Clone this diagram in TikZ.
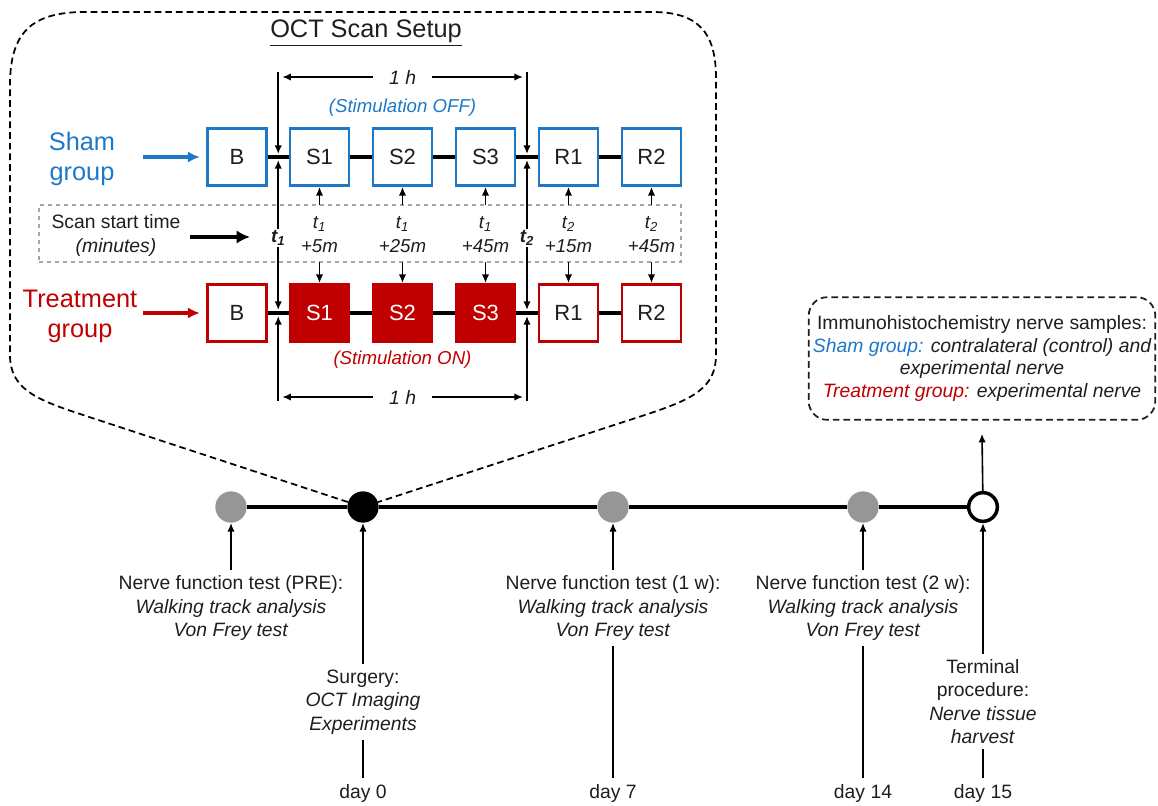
\documentclass[tikz,border=0pt]{standalone}
\usepackage{fontspec}
\setmainfont{Liberation Sans}
\usetikzlibrary{arrows.meta,calc}
\definecolor{shamblue}{RGB}{30,120,200}
\definecolor{treatred}{RGB}{192,0,0}
\definecolor{dotgray}{RGB}{150,150,150}
\definecolor{scangray}{RGB}{165,165,165}
\definecolor{txtdark}{RGB}{30,30,30}
\newcommand\fbody{\fontsize{14.5}{17.5}\selectfont}
\newcommand\fihc{\fontsize{14.5}{17}\selectfont}
\newcommand\fgroup{\fontsize{19}{22.5}\selectfont}
\newcommand\fboxlbl{\fontsize{16.5}{20}\selectfont}
\newcommand\ftitle{\fontsize{19}{23}\selectfont}
\newcommand\ftime{\fontsize{14}{18}\selectfont}
\begin{document}
\begin{tikzpicture}[x=0.75pt,y=-0.75pt,
  every node/.style={font=\fbody, text=txtdark},
  arr/.style={-{Latex[length=6.5pt,width=5.5pt]}, line width=1.2pt},
  arrs/.style={{Latex[length=6.5pt,width=5.5pt]}-{Latex[length=6.5pt,width=5.5pt]}, line width=1.2pt},
  grparr/.style={-{Latex[length=9pt,width=8.5pt]}, line width=2.4pt, shorten >=5pt},
  bigarr/.style={-{Latex[length=10pt,width=10pt]}, line width=3pt},
  basebox/.style={line width=1.8pt, fill=white, minimum width=44pt, minimum height=43pt, inner sep=0pt, font=\fboxlbl},
  shambox/.style={basebox, draw=shamblue},
  treatbox/.style={basebox, draw=treatred},
  stimbox/.style={basebox, draw=treatred, fill=treatred, text=white},
  bar/.style={line width=3.3pt},
  tl/.style={line width=3pt},
  tick/.style={line width=1.2pt},
  dot/.style={circle, minimum size=23.5pt, inner sep=0pt},
  callout/.style={line width=1.3pt, dash pattern=on 5pt off 3pt},
  timelbl/.style={align=center, font=\ftime, inner sep=1pt},
  desc/.style={align=center, inner sep=4pt}
]
\path[use as bounding box] (0,0) rectangle (1158,806);

% ---------- timeline dots ----------
\node[dot, fill=dotgray] (dpre) at (231,507) {};
\node[dot, fill=black] (d0) at (363,507) {};
\node[dot, fill=dotgray] (d7) at (613,507) {};
\node[dot, fill=dotgray] (d14) at (863,507) {};
\node[dot, draw=black, line width=2.6pt, fill=white, minimum size=21.5pt] (d15) at (983,507) {};

% ---------- callout ----------
\draw[callout] (d0) -- (77,413) .. controls (35,399) and (10,388) .. (10,355)
  -- (10,85) .. controls (10,32) and (32,12) .. (85,12)
  -- (652,12) .. controls (698,12) and (716,32) .. (716,78)
  -- (716,355) .. controls (716,388) and (692,399) .. (651,413) -- (d0);

\node (title) at (366,33) {\ftitle\underline{OCT Scan Setup}};

% ---------- scan start box ----------
\node[draw=scangray, dashed, line width=1pt, minimum width=481.5pt, minimum height=42.75pt, inner sep=0pt, outer sep=0pt] (scan) at (360,233.5) {};

% ---------- rows ----------
\node[shambox] (sB)  at (237,157) {B};
\node[shambox] (sS1) at (319.5,157) {S1};
\node[shambox] (sS2) at (402.5,157) {S2};
\node[shambox] (sS3) at (485.5,157) {S3};
\node[shambox] (sR1) at (568.5,157) {R1};
\node[shambox] (sR2) at (651.5,157) {R2};

\node[treatbox] (tB)  at (237,313) {B};
\node[stimbox]  (tS1) at (319.5,313) {S1};
\node[stimbox]  (tS2) at (402.5,313) {S2};
\node[stimbox]  (tS3) at (485.5,313) {S3};
\node[treatbox] (tR1) at (568.5,313) {R1};
\node[treatbox] (tR2) at (651.5,313) {R2};

\foreach \r in {s,t}{
  \draw[bar] (\r B) -- (\r S1);
  \draw[bar] (\r S1) -- (\r S2);
  \draw[bar] (\r S2) -- (\r S3);
  \draw[bar] (\r S3) -- (\r R1);
  \draw[bar] (\r R1) -- (\r R2);
}

% group labels
\node[align=center, font=\fgroup, text=shamblue] (shamlbl) at (82,159) {Sham\\group};
\node[align=center, font=\fgroup, text=treatred] (treatlbl) at (80,316) {Treatment\\group};
\coordinate (sa) at (143,157);
\coordinate (ta) at (143,313);
\draw[grparr, shamblue] (sa) -- (sB.west);
\draw[grparr, treatred] (ta) -- (tB.west);

% stimulation labels
\node[font=\fontsize{14}{16}\selectfont\itshape, text=shamblue] (stoff) at (402.5,108) {(Stimulation OFF)};
\node[font=\fontsize{14}{16}\selectfont\itshape, text=treatred] (ston) at (402.5,360) {(Stimulation ON)};

% vertical time markers
\coordinate (m1s) at ($(sB.east)!.5!(sS1.west)$);
\coordinate (m2s) at ($(sS3.east)!.5!(sR1.west)$);
\coordinate (m1t) at ($(tB.east)!.5!(tS1.west)$);
\coordinate (m2t) at ($(tS3.east)!.5!(tR1.west)$);
\coordinate (hTop) at (0,72);
\coordinate (hBot) at (0,401);
\coordinate (hA) at (0,77);
\coordinate (hB) at (0,397);
\coordinate (tly) at (0,238);

\foreach \m in {1,2}{
  \draw[arr] (m\m s |- hTop) -- ($(m\m s)+(0,-3)$);
  \draw[arrs] ($(m\m s)+(0,3)$) -- ($(m\m t)+(0,-3)$);
  \draw[arr] (m\m t |- hBot) -- ($(m\m t)+(0,3)$);
}
\draw[arrs, shorten <=3pt, shorten >=3pt] (m1s |- hA) -- (m2s |- hA)
  node[midway, fill=white, inner xsep=12pt, inner ysep=1pt] (oneh1) {\itshape 1 h};
\draw[arrs, shorten <=3pt, shorten >=3pt] (m1t |- hB) -- (m2t |- hB)
  node[midway, fill=white, inner xsep=12pt, inner ysep=1pt] (oneh2) {\itshape 1 h};

\node[fill=white, inner sep=1pt, font=\ftime] (tl1) at (m1s |- tly) {\bfseries\itshape t\textsubscript{1}};
\node[fill=white, inner sep=1pt, font=\ftime] (tl2) at (m2s |- tly) {\bfseries\itshape t\textsubscript{2}};

% scan start time text
\node[align=center, font=\fontsize{14.5}{18}\selectfont] (scantxt) at (116,235) {Scan start time\\\textit{(minutes)}};
\coordinate (sca) at (190,237);
\coordinate (scb) at (250,237);
\draw[bigarr] (sca) -- (scb);

% time labels
\node[timelbl] (ts1) at (319.5,235) {\itshape t\textsubscript{1}\\\itshape +5m};
\node[timelbl] (ts2) at (402.5,235) {\itshape t\textsubscript{1}\\\itshape +25m};
\node[timelbl] (ts3) at (485.5,235) {\itshape t\textsubscript{1}\\\itshape +45m};
\node[timelbl] (tr1) at (568.5,235) {\itshape t\textsubscript{2}\\\itshape +15m};
\node[timelbl] (tr2) at (651.5,235) {\itshape t\textsubscript{2}\\\itshape +45m};

\foreach \n in {S1,S2,S3,R1,R2}{
  \draw[arr] (scan.north -| s\n) -- (s\n);
  \draw[arr] (scan.south -| t\n) -- (t\n);
}

% ---------- timeline ----------
\draw[tl] (dpre) -- (d0);
\draw[tl] (d0) -- (d7);
\draw[tl] (d7) -- (d14);
\draw[tl] (d14) -- (d15);

% ---------- descriptions ----------
\node[desc] (pre) at (231,608) {Nerve function test (PRE):\\\textit{Walking track analysis}\\\textit{Von Frey test}};
\node[desc] (surg) at (363,702) {Surgery:\\\textit{OCT Imaging}\\\textit{Experiments}};
\node[desc] (w1) at (613,608) {Nerve function test (1 w):\\\textit{Walking track analysis}\\\textit{Von Frey test}};
\node[desc] (w2) at (863,608) {Nerve function test (2 w):\\\textit{Walking track analysis}\\\textit{Von Frey test}};
\node[desc] (term) at (983,701.5) {Terminal\\procedure:\\\textit{Nerve tissue}\\\textit{harvest}};

\node[inner sep=4pt] (day0) at (363,793) {day 0};
\node[inner sep=4pt] (day7) at (613,793) {day 7};
\node[inner sep=4pt] (day14) at (863,793) {day 14};
\node[inner sep=4pt] (day15) at (983,793) {day 15};

\draw[arr] (pre) -- (dpre);
\draw[arr] (surg) -- (d0);
\draw[arr] (w1) -- (d7);
\draw[arr] (w2) -- (d14);
\draw[arr] (term) -- (d15);

\draw[tick] (surg) -- (day0);
\draw[tick] (w1) -- (day7);
\draw[tick] (w2) -- (day14);
\draw[tick] (term) -- (day15);

% ---------- IHC box ----------
\node[draw=txtdark, line width=1.3pt, dash pattern=on 5pt off 3pt, rounded corners=14pt,
  minimum width=260pt, minimum height=92pt, align=center, font=\fihc, inner sep=2pt] (ihc) at (982,358.5)
  {Immunohistochemistry nerve samples:\\
   {\color{shamblue}\itshape Sham group:} {\itshape contralateral (control) and}\\
   {\itshape experimental nerve}\\
   {\color{treatred}\itshape Treatment group:} {\itshape experimental nerve}};
\coordinate (ihcarr) at ($(ihc.south)+(0,13)$);
\draw[arr] (d15) -- (ihcarr);
\end{tikzpicture}
\end{document}
